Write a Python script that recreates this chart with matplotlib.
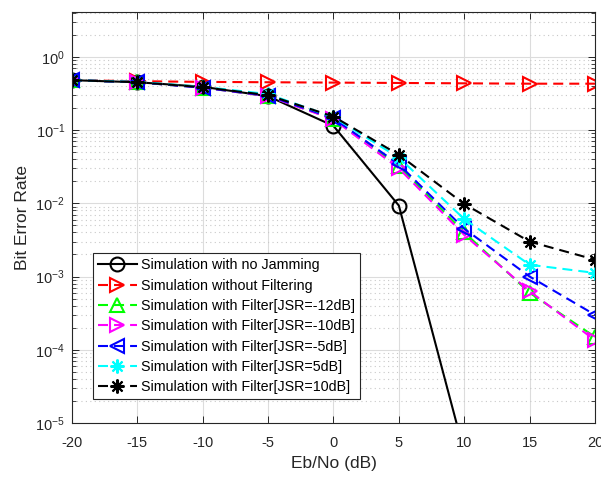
import matplotlib
matplotlib.use("Agg")
import matplotlib.pyplot as plt
from matplotlib.ticker import LogLocator, NullFormatter

plt.rcParams["font.family"] = ["Liberation Sans", "DejaVu Sans"]
plt.rcParams["mathtext.fontset"] = "custom"
plt.rcParams["mathtext.rm"] = "Liberation Sans"
plt.rcParams["axes.unicode_minus"] = False

ebno = [-20, -15, -10, -5, 0, 5, 10, 15, 20]
ebno_nojam = [-20, -15, -10, -5, 0, 5, 10]

ber_nojam = [0.48, 0.45, 0.39, 0.29, 0.114, 0.0093, 4e-6]
ber_nofilt = [0.48, 0.465, 0.455, 0.45, 0.445, 0.44, 0.435, 0.43, 0.43]
ber_m12 = [0.48, 0.45, 0.38, 0.29, 0.142, 0.032, 0.0040, 0.00060, 0.000150]
ber_m10 = [0.48, 0.45, 0.38, 0.29, 0.140, 0.030, 0.0037, 0.00063, 0.000135]
ber_m5 = [0.48, 0.45, 0.38, 0.295, 0.145, 0.034, 0.0045, 0.00100, 0.00030]
ber_p5 = [0.48, 0.455, 0.39, 0.31, 0.150, 0.042, 0.0061, 0.00145, 0.00112]
ber_p10 = [0.48, 0.45, 0.385, 0.30, 0.153, 0.046, 0.0098, 0.0030, 0.0017]

labels = [
    "Simulation with no Jamming",
    "Simulation without Filtering",
    "Simulation with Filter[JSR=-12dB]",
    "Simulation with Filter[JSR=-10dB]",
    "Simulation with Filter[JSR=-5dB]",
    "Simulation with Filter[JSR=5dB]",
    "Simulation with Filter[JSR=10dB]",
]

fig = plt.figure(figsize=(6.01, 4.79), dpi=100)
ax = fig.add_axes([0.1198, 0.1169, 0.8702, 0.8581])

dash = (4.8, 2.9)
star = (8, 2, 0)
common = dict(lw=1.5, mew=1.5, mfc="none", ms=10)

ax.plot(ebno_nojam, ber_nojam, "-", color="k", marker="o", label=labels[0], **common)
ax.plot(ebno, ber_nofilt, "--", dashes=dash, color="#ff0000", marker=">", label=labels[1], **common)
ax.plot(ebno, ber_m12, "--", dashes=dash, color="#00ff00", marker="^", label=labels[2], **common)
ax.plot(ebno, ber_m10, "--", dashes=dash, color="#ff00ff", marker=">", label=labels[3], **common)
ax.plot(ebno, ber_m5, "--", dashes=dash, color="#0000ff", marker="<", label=labels[4], **common)
ax.plot(ebno, ber_p5, "--", dashes=dash, color="#00ffff", marker=star, label=labels[5], **common)
ax.plot(ebno, ber_p10, "--", dashes=dash, color="k", marker=star, label=labels[6], **common)

ax.set_yscale("log")
ax.set_xlim(-20, 20)
ax.set_ylim(1e-5, 4.1)
ax.set_xticks(range(-20, 21, 5))
ax.yaxis.set_major_locator(LogLocator(base=10, numticks=10))
ax.yaxis.set_minor_locator(LogLocator(base=10, subs=range(2, 10), numticks=20))
ax.yaxis.set_minor_formatter(NullFormatter())

ax.grid(True, which="major", color="#dcdcdc", lw=0.8, ls="-")
ax.grid(True, which="minor", axis="y", color="#c8c8c8", lw=0.8, ls=(0, (1, 3)))
ax.set_axisbelow(True)

ax.tick_params(which="both", direction="in", top=True, right=True, labelsize=10.5, colors="#262626")
ax.tick_params(which="major", length=5, width=0.7)
ax.tick_params(which="minor", length=3, width=0.6)
ax.tick_params(axis="x", which="major", pad=9)
ax.tick_params(axis="y", which="major", pad=5)
for s in ax.spines.values():
    s.set_color("#262626")
    s.set_linewidth(0.8)

ax.set_xlabel("Eb/No (dB)", fontsize=12.5, color="#262626", labelpad=5)
ax.set_ylabel("Bit Error Rate", fontsize=12.5, color="#262626", labelpad=4)

leg = ax.legend(loc="lower left", bbox_to_anchor=(0.04, 0.058), fontsize=10.3,
                fancybox=False, framealpha=1, edgecolor="#262626",
                handlelength=2.7, handletextpad=0.3, labelspacing=0.44,
                borderpad=0.35, borderaxespad=0)
leg.get_frame().set_linewidth(0.8)

fig.savefig("out.png", dpi=100)
